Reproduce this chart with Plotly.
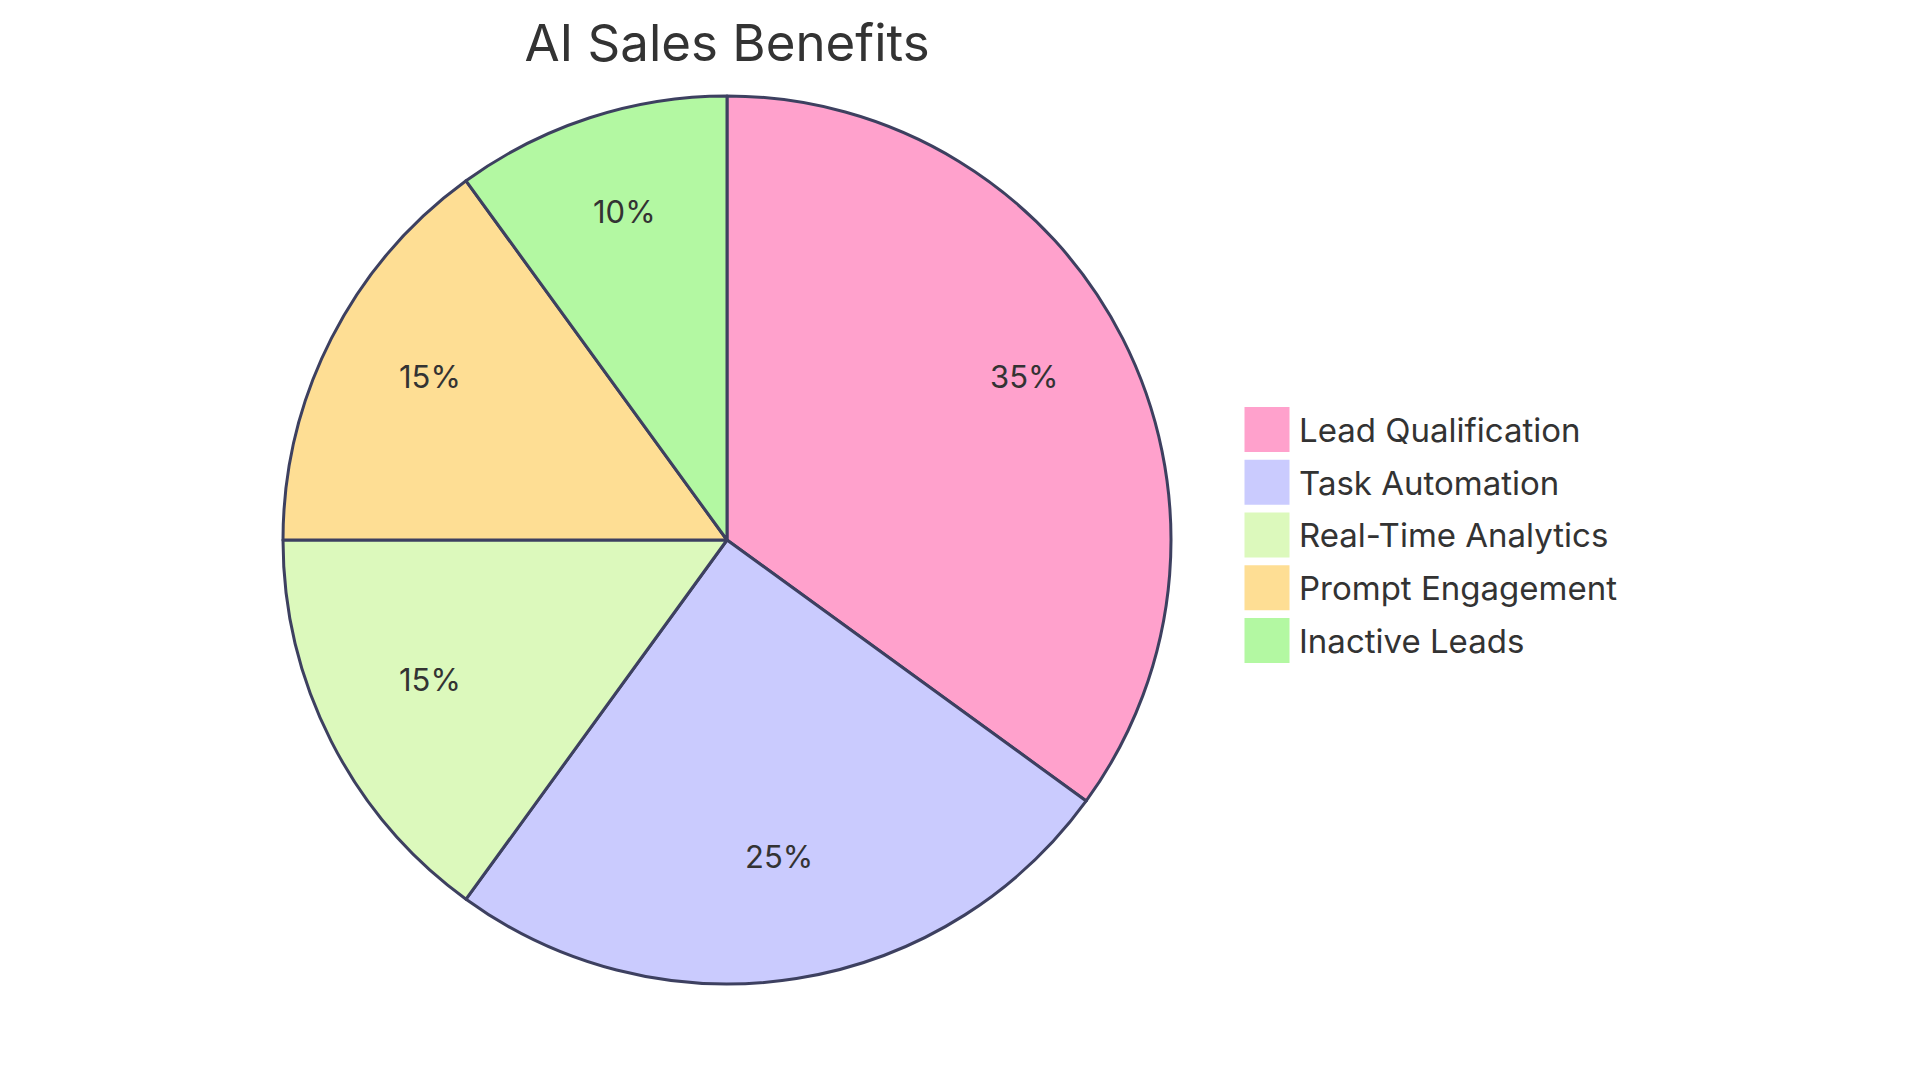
import math
import plotly.graph_objects as go

# ---- data ----
categories = ["Lead Qualification", "Task Automation", "Real-Time Analytics",
              "Prompt Engagement", "Inactive Leads"]
values = [35, 25, 15, 15, 10]
slice_colors = ["#FFA1CC", "#CACBFE", "#DCF9BC", "#FEDE94", "#B3F8A2"]
title_text = "AI Sales Benefits"

# page is rendered with an 8px body margin, so figure is 16px smaller
W, H = 1904, 1067
TEXT = "#333333"
EDGE = "#3D4060"
FONT = "Inter, Roboto, sans-serif"

# pie geometry (layout, in pixels of the figure)
cx, cy, R = 719, 532, 444
dom_x = [(cx - R) / W, (cx + R) / W]
dom_y = [(H - cy - R) / H, (H - cy + R) / H]

total = sum(values)
pct_text = [f"{round(v / total * 100)}%" for v in values]

fig = go.Figure()
fig.add_trace(go.Pie(
    labels=categories, values=values, sort=False, direction="clockwise",
    rotation=0, textinfo="none", hoverinfo="label+percent",
    marker=dict(colors=slice_colors, line=dict(color=EDGE, width=3)),
    domain=dict(x=dom_x, y=dom_y), showlegend=False,
))

# percentage labels at 0.75 radius along each slice's middle angle,
# placed on a unit axis pair that overlays the pie domain
annotations = []
acc = 0
for v, t in zip(values, pct_text):
    ang = math.radians((acc + v / 2) / total * 360)
    acc += v
    annotations.append(dict(
        x=0.75 * math.sin(ang), y=0.75 * math.cos(ang), xref="x3", yref="y3",
        text=t, showarrow=False, yshift=12,
        font=dict(family=FONT, size=31, color=TEXT),
    ))

# legend drawn as squares on its own category axis, text on a twin axis
sq_left = 1236
leg_w = 460
px_per_unit = leg_w / 10.0
text_gap = 32 / px_per_unit  # text starts 32px right of the square centre

fig.add_trace(go.Scatter(
    x=[0] * len(categories), y=categories, mode="markers",
    marker=dict(symbol="square", size=45, color=slice_colors, line=dict(width=0)),
    xaxis="x2", yaxis="y2", hoverinfo="skip", showlegend=False,
    cliponaxis=False,
))
fig.add_trace(go.Scatter(
    x=[text_gap] * len(categories), y=categories, mode="text",
    text=categories, textposition="middle right",
    textfont=dict(family=FONT, size=33, color=TEXT),
    xaxis="x2", yaxis="y4", hoverinfo="skip", showlegend=False,
    cliponaxis=False,
))

row_h = 52.75
top_px = 421.5 - row_h / 2
bot_px = top_px + row_h * len(categories)
txt_dy = 4

fig.update_layout(
    width=W, height=H,
    margin=dict(l=0, r=0, t=0, b=0),
    paper_bgcolor="white", plot_bgcolor="rgba(0,0,0,0)",
    title=dict(text=title_text, x=cx / W, xanchor="center",
               y=1 - 35 / H, yanchor="middle", yref="container",
               font=dict(family=FONT, size=51, color=TEXT)),
    annotations=annotations,
    xaxis3=dict(domain=dom_x, range=[-1, 1], visible=False, fixedrange=True,
                anchor="y3"),
    yaxis3=dict(domain=dom_y, range=[-1, 1], visible=False, fixedrange=True,
                anchor="x3"),
    xaxis2=dict(domain=[sq_left / W, (sq_left + leg_w) / W], range=[-0.5, 9.5],
                visible=False, fixedrange=True, anchor="y2"),
    yaxis2=dict(domain=[(H - bot_px) / H, (H - top_px) / H],
                range=[len(categories) - 0.5, -0.5], visible=False,
                type="category", fixedrange=True, anchor="x2"),
    yaxis4=dict(domain=[(H - bot_px - txt_dy) / H, (H - top_px - txt_dy) / H],
                range=[len(categories) - 0.5, -0.5], visible=False,
                type="category", fixedrange=True, anchor="x2"),
    xaxis=dict(visible=False), yaxis=dict(visible=False),
)

fig.write_html("out.html")
